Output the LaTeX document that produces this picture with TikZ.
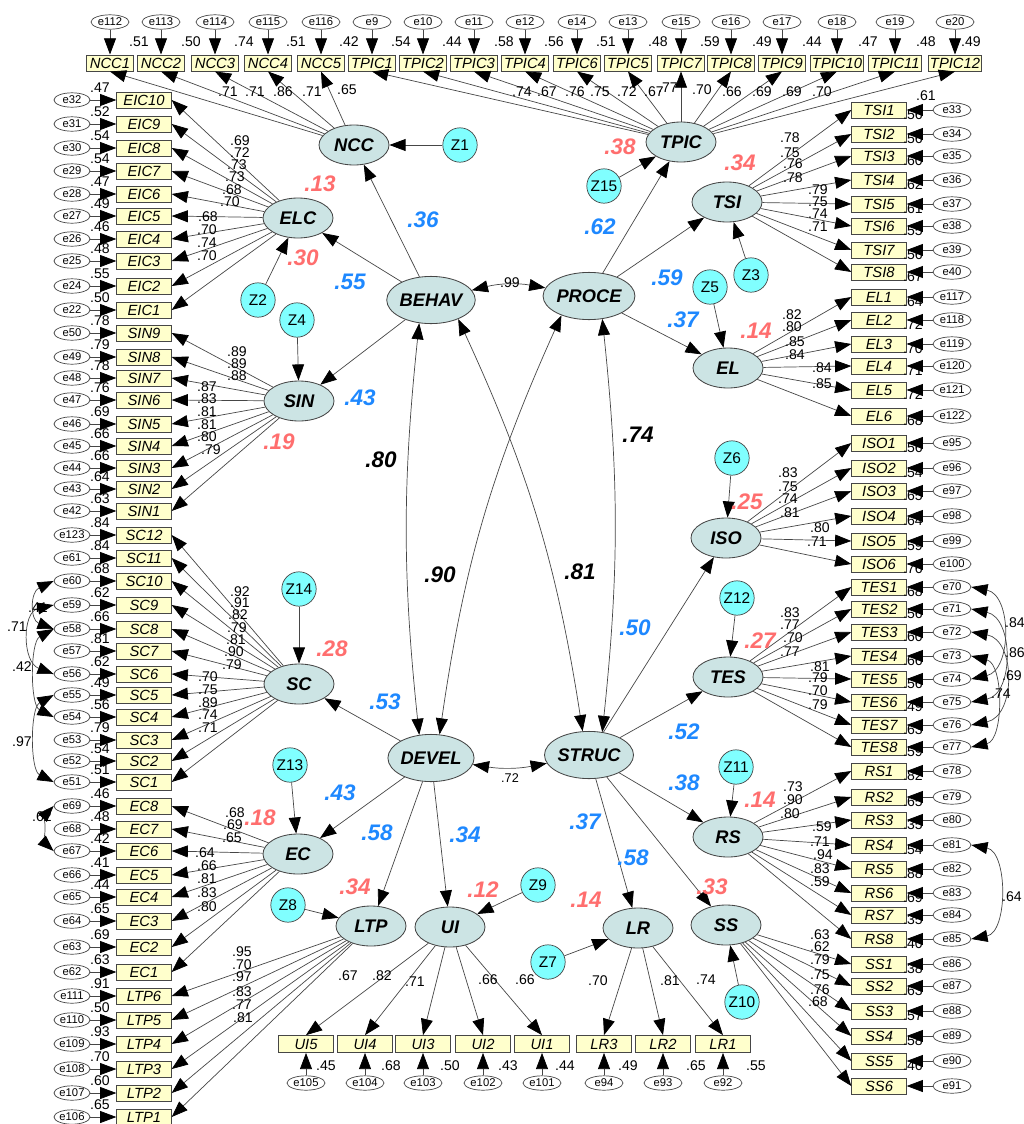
\documentclass[tikz,border=0pt]{standalone}
\usepackage{fontspec}
\setmainfont{Liberation Sans}
\usetikzlibrary{arrows.meta,shapes.geometric}

\definecolor{latfill}{RGB}{204,228,228}
\definecolor{zfill}{RGB}{128,255,255}
\definecolor{itemfill}{RGB}{255,255,204}
\definecolor{rsqred}{RGB}{255,110,110}
\definecolor{betablue}{RGB}{30,136,255}
\definecolor{linegray}{RGB}{70,70,70}

\tikzset{
  item/.style={draw=linegray, fill=itemfill, line width=0.7pt, minimum width=13.6mm,
    minimum height=4mm, inner sep=0pt, font=\fontsize{10.5}{10.5}\selectfont\itshape},
  errnode/.style={draw=linegray, fill=white, ellipse, line width=0.5pt, minimum width=9mm,
    minimum height=3.6mm, inner sep=0pt, font=\fontsize{8}{8}\selectfont},
  lat/.style={draw=linegray, fill=latfill, ellipse, line width=0.6pt, minimum width=17.5mm,
    minimum height=10mm, inner sep=0pt, font=\fontsize{13}{13}\selectfont\bfseries\itshape},
  biglat/.style={lat, minimum width=20.5mm, minimum height=11.8mm},
  dist/.style={draw=linegray, fill=zfill, circle, line width=0.5pt, minimum size=8.6mm,
    inner sep=0pt, font=\fontsize{11}{11}\selectfont},
  arr/.style={draw=linegray, line width=0.5pt, -{Triangle[length=11.5pt,width=8.5pt,color=black]}},
  cov/.style={draw=linegray, line width=0.5pt,
    {Triangle[length=11.5pt,width=8.5pt,color=black]}-{Triangle[length=11.5pt,width=8.5pt,color=black]}},
  num/.style={inner sep=0pt, font=\fontsize{10}{10}\selectfont},
  rsq/.style={inner sep=0pt, text=rsqred, font=\fontsize{16}{16}\selectfont\bfseries\itshape},
  beta/.style={inner sep=0pt, text=betablue, font=\fontsize{16}{16}\selectfont\bfseries\itshape},
  corr/.style={inner sep=0pt, font=\fontsize{16}{16}\selectfont\bfseries\itshape},
}

\begin{document}
\begin{tikzpicture}[x=0.25mm,y=-0.25mm]
  \useasboundingbox (0,0) rectangle (1024,1124);

  % latent variables
  \node[lat] (NCC) at (354,145) {NCC};
  \node[lat] (TPIC) at (681,142) {TPIC};
  \node[lat] (ELC) at (298,218) {ELC};
  \node[lat] (SIN) at (299,401) {SIN};
  \node[lat] (SC) at (299,684) {SC};
  \node[lat] (EC) at (298,854) {EC};
  \node[lat] (LTP) at (371,926) {LTP};
  \node[lat] (UI) at (450,927) {UI};
  \node[lat] (LR) at (638,928) {LR};
  \node[lat] (SS) at (726,925) {SS};
  \node[lat] (TSI) at (727,202) {TSI};
  \node[lat] (EL) at (728,368) {EL};
  \node[lat] (ISO) at (726,538) {ISO};
  \node[lat] (TES) at (728,677) {TES};
  \node[lat] (RS) at (728,837) {RS};
  \node[biglat] (BEHAV) at (431,300) {BEHAV};
  \node[biglat] (PROCE) at (589,296) {PROCE};
  \node[biglat] (DEVEL) at (431,758) {DEVEL};
  \node[biglat] (STRUC) at (589,755) {STRUC};

  % disturbances
  \foreach \z/\xx/\yy in {Z1/460/145, Z15/604/186, Z2/258/300, Z4/297/320, Z14/299/589,
      Z13/290/765, Z8/288/905, Z9/538/885, Z7/548/962, Z10/742/1002, Z3/751/275,
      Z5/710/287, Z6/732/458, Z12/737/598, Z11/736/767}
    \node[dist] (\z) at (\xx,\yy) {\z};
  \foreach \z/\lv in {Z1/NCC, Z15/TPIC, Z2/ELC, Z4/SIN, Z14/SC, Z13/EC, Z8/LTP, Z9/UI,
      Z7/LR, Z10/SS, Z3/TSI, Z5/EL, Z6/ISO, Z12/TES, Z11/RS}
    \draw[arr] (\z) -- (\lv);

  % left column
  \foreach \nm/\yy/\er/\rs in {EIC10/100/e32/.47, EIC9/124/e31/.52, EIC8/148/e30/.54,
      EIC7/171/e29/.54, EIC6/194/e28/.47, EIC5/216/e27/.49, EIC4/239/e26/.46,
      EIC3/261/e25/.48, EIC2/286/e24/.55, EIC1/310/e22/.50,
      SIN9/333/e50/.78, SIN8/357/e49/.79, SIN7/378/e48/.78, SIN6/400/e47/.76,
      SIN5/424/e46/.69, SIN4/446/e45/.66, SIN3/468/e44/.66, SIN2/489/e43/.64,
      SIN1/511/e42/.63,
      SC12/535/e123/.84, SC11/558/e61/.84, SC10/581/e60/.68, SC9/605/e59/.62,
      SC8/629/e58/.66, SC7/651/e57/.81, SC6/674/e56/.62, SC5/695/e55/.49,
      SC4/717/e54/.56, SC3/740/e53/.79, SC2/761/e52/.54, SC1/782/e51/.51,
      EC8/806/e69/.46, EC7/829/e68/.48, EC6/851/e67/.42, EC5/875/e66/.41,
      EC4/897/e65/.44, EC3/921/e64/.65, EC2/947/e63/.69, EC1/972/e62/.63,
      LTP6/996/e111/.91, LTP5/1020/e110/.50, LTP4/1044/e109/.93, LTP3/1069/e108/.70,
      LTP2/1093/e107/.60, LTP1/1117/e106/.65}
  {
    \node[item] (\nm) at (144,\yy) {\nm};
    \node[errnode] (\er) at (72,\yy) {\er};
    \draw[arr] (\er) -- (\nm);
    \node[num] at (100,\yy-12) {\rs};
  }
  \foreach \i in {1,...,10} \draw[arr] (ELC) -- (EIC\i.east);
  \foreach \i in {1,...,9} \draw[arr] (SIN) -- (SIN\i.east);
  \foreach \i in {1,...,12} \draw[arr] (SC) -- (SC\i.east);
  \foreach \i in {1,...,8} \draw[arr] (EC) -- (EC\i.east);
  \foreach \i in {1,...,6} \draw[arr] (LTP) -- (LTP\i.east);

  % top row
  \foreach \nm/\xx/\er/\bw in {NCC1/110/e112/11.8, NCC2/161/e113/11.8, NCC3/215/e114/11.8,
      NCC4/268/e115/11.8, NCC5/321/e116/11.8, TPIC1/372/e9/11.8, TPIC2/423/e10/11.8,
      TPIC3/474/e11/11.8, TPIC4/525/e12/11.8, TPIC6/577/e14/11.8, TPIC5/628/e13/11.8,
      TPIC7/681/e15/11.8, TPIC8/731/e16/11.8, TPIC9/782/e17/11.8, TPIC10/837/e18/13.4,
      TPIC11/895/e19/13.4, TPIC12/955/e20/13.4}
  {
    \node[item, minimum width=\bw mm] (\nm) at (\xx,63) {\nm};
    \node[errnode, minimum width=9.5mm] (\er) at (\xx,22) {\er};
    \draw[arr] (\er) -- (\nm);
  }
  \foreach \xx/\rs in {139/.51, 191/.50, 244/.74, 296/.51, 349/.42, 401/.54, 452/.44,
      504/.58, 554/.56, 606/.51, 658/.48, 710/.59, 762/.49, 812/.44, 868/.47, 926/.48, 971/.49}
    \node[num] at (\xx,42) {\rs};
  \foreach \i in {1,...,5} \draw[arr] (NCC) -- (NCC\i.south);
  \foreach \i in {1,...,12} \draw[arr] (TPIC) -- (TPIC\i.south);

  % right column
  \foreach \nm/\yy/\er/\rs in {TSI1/110/e33/.56, TSI2/134/e34/.56, TSI3/156/e35/.60,
      TSI4/180/e36/.62, TSI5/204/e37/.61, TSI6/226/e38/.55, TSI7/250/e39/.56,
      TSI8/272/e40/.67,
      EL1/297/e117/.64, EL2/320/e118/.72, EL3/344/e119/.70, EL4/366/e120/.71,
      EL5/390/e121/.72, EL6/416/e122/.68,
      ISO1/443/e95/.56, ISO2/468/e96/.54, ISO3/491/e97/.65, ISO4/516/e98/.64,
      ISO5/541/e99/.59, ISO6/564/e100/.76,
      TES1/587/e70/.68, TES2/609/e71/.56, TES3/632/e72/.60, TES4/656/e73/.66,
      TES5/679/e74/.56, TES6/702/e75/.49, TES7/725/e76/.63, TES8/747/e77/.59,
      RS1/771/e78/.82, RS2/797/e79/.65, RS3/820/e80/.35, RS4/845/e81/.54,
      RS5/869/e82/.88, RS6/893/e83/.69, RS7/915/e84/.35, RS8/939/e85/.40,
      SS1/964/e86/.38, SS2/986/e87/.63, SS3/1011/e88/.57, SS4/1036/e89/.58,
      SS5/1061/e90/.46, SS6/1086/e91/{}}
  {
    \node[item] (\nm) at (879,\yy) {\nm};
    \node[errnode, minimum width=9.5mm] (\er) at (952,\yy) {\er};
    \draw[arr] (\er) -- (\nm);
    \node[num] at (913,\yy+5) {\rs};
  }
  \node[num] at (926,96) {.61};
  \foreach \i in {1,...,8} \draw[arr] (TSI) -- (TSI\i.west);
  \foreach \i in {1,...,6} \draw[arr] (EL) -- (EL\i.west);
  \foreach \i in {1,...,6} \draw[arr] (ISO) -- (ISO\i.west);
  \foreach \i in {1,...,8} \draw[arr] (TES) -- (TES\i.west);
  \foreach \i in {1,...,8} \draw[arr] (RS) -- (RS\i.west);
  \foreach \i in {1,...,6} \draw[arr] (SS) -- (SS\i.west);

  % bottom row
  \foreach \nm/\xx/\er/\rs/\rx in {UI5/306/e105/.45/326, UI4/365/e104/.68/391,
      UI3/423/e103/.50/450, UI2/483/e102/.43/508, UI1/542/e101/.44/565,
      LR3/604/e94/.49/628, LR2/663/e93/.65/696, LR1/723/e92/.55/756}
  {
    \node[item, minimum height=4.2mm] (\nm) at (\xx,1044) {\nm};
    \node[errnode, minimum width=9.5mm] (\er) at (\xx,1083) {\er};
    \draw[arr] (\er) -- (\nm);
    \node[num] at (\rx,1066) {\rs};
  }
  \foreach \i in {1,...,5} \draw[arr] (UI) -- (UI\i.north);
  \foreach \i in {1,...,3} \draw[arr] (LR) -- (LR\i.north);

  % loadings
  \foreach \xx/\yy/\v in {228/92/.71, 255/92/.71, 283/92/.86, 312/92/.71, 347/90/.65,
      522/92/.74, 547/92/.67, 575/92/.76, 600/92/.75, 627/92/.72, 654/92/.67, 668/88/.77,
      702/90/.70, 732/92/.66, 762/92/.69, 792/92/.69, 822/92/.70,
      240/141/.69, 240/153/.72, 237/165/.73, 235/177/.73, 232/190/.68, 230/202/.70,
      208/217/.68, 207/230/.70, 207/243/.74, 207/256/.70,
      237/352/.89, 237/364/.89, 237/376/.88, 207/387/.87, 207/399/.83, 207/412/.81,
      207/425/.81, 207/437/.80, 211/450/.79,
      240/592/.92, 240/603/.91, 238/615/.82, 237/628/.79, 236/640/.81, 234/652/.90,
      232/665/.79, 208/677/.70, 208/690/.75, 208/703/.89, 208/715/.74, 208/728/.71,
      235/813/.68, 233/825/.69, 232/838/.65, 205/853/.64, 207/866/.66, 207/879/.81,
      207/893/.83, 207/907/.80,
      242/952/.95, 242/965/.70, 242/977/.97, 242/992/.83, 242/1005/.77, 243/1018/.81,
      790/138/.78, 790/153/.75, 793/164/.76, 793/178/.78, 818/190/.79, 818/202/.75,
      818/214/.74, 818/227/.71,
      792/315/.82, 792/327/.80, 795/342/.85, 795/355/.84, 822/368/.84, 822/384/.85,
      788/473/.83, 788/487/.75, 788/499/.74, 790/513/.81, 820/528/.80, 817/542/.71,
      790/613/.83, 790/625/.77, 793/638/.70, 790/652/.77, 820/667/.81, 818/678/.79,
      818/691/.70, 818/705/.79,
      793/787/.73, 793/800/.90, 790/814/.80, 822/827/.59, 820/842/.71, 823/855/.94,
      820/869/.83, 820/882/.59,
      820/935/.63, 820/947/.62, 820/960/.79, 820/975/.75, 820/990/.76, 818/1002/.68,
      348/976/.67, 382/976/.82, 415/982/.71, 488/980/.66, 525/980/.66,
      598/981/.70, 670/981/.81, 706/980/.74}
    \node[num] at (\xx,\yy) {\v};

  % structural paths
  \foreach \src/\dst in {BEHAV/NCC, BEHAV/ELC, BEHAV/SIN, PROCE/TPIC, PROCE/TSI, PROCE/EL,
      DEVEL/SC, DEVEL/EC, DEVEL/LTP, DEVEL/UI, STRUC/ISO, STRUC/TES, STRUC/RS,
      STRUC/LR, STRUC/SS}
    \draw[arr] (\src) -- (\dst);

  % correlations between the factors
  \draw[cov] (BEHAV) to[bend left=12] (PROCE);
  \draw[cov] (DEVEL) to[bend right=10] (STRUC);
  \draw[cov] (BEHAV.243) to[bend right=6] (DEVEL.117);
  \draw[cov] (PROCE.300) to[bend left=6] (STRUC.60);
  \draw[cov] (PROCE.215) to[bend right=8] (DEVEL.70);
  \draw[cov] (BEHAV.325) to[bend left=8] (STRUC.105);
  \node[num] at (510,283) {.99};
  \node[num, font=\fontsize{9}{9}\selectfont] at (510,778) {.72};

  % error covariances
  \draw[cov] (e59.west) .. controls (22,612) and (22,662) .. (e56.west);
  \draw[cov] (e60.west) .. controls (30,592) and (30,620) .. (e58.west);
  \draw[cov] (e58.west) .. controls (30,642) and (30,705) .. (e54.west);
  \draw[cov] (e55.west) .. controls (30,708) and (30,770) .. (e51.west);
  \draw[cov] (e69.west) .. controls (46,814) and (46,844) .. (e67.west);
  \node[num] at (38,608) {.41};
  \node[num] at (17,627) {.71};
  \node[num] at (22,667) {.42};
  \node[num] at (22,742) {.97};
  \node[num] at (42,817) {.62};
  \draw[cov] (e70.east) .. controls (1012,595) and (1012,670) .. (e74.east);
  \draw[cov] (e71.east) .. controls (1014,618) and (1014,694) .. (e75.east);
  \draw[cov] (e72.east) .. controls (1016,640) and (1016,716) .. (e76.east);
  \draw[cov] (e73.east) .. controls (1004,664) and (1004,740) .. (e77.east);
  \draw[cov] (e81.east) .. controls (1008,852) and (1008,932) .. (e85.east);
  \node[num] at (1015,623) {.84};
  \node[num] at (1015,653) {.86};
  \node[num] at (1012,676) {.69};
  \node[num] at (1001,694) {.74};
  \node[num] at (1012,897) {.64};

  % squared multiple correlations
  \foreach \xx/\yy/\v in {320/184/.13, 620/147/.38, 740/163/.34, 303/258/.30, 279/442/.19,
      756/331/.14, 747/502/.25, 332/649/.28, 760/641/.27, 260/818/.18, 760/800/.14,
      355/887/.34, 483/890/.12, 586/900/.14, 712/887/.33}
    \node[rsq] at (\xx,\yy) {\v};

  % path coefficients
  \foreach \xx/\yy/\v in {423/220/.36, 350/282/.55, 600/227/.62, 667/278/.59, 683/320/.37,
      360/398/.43, 385/702/.53, 340/793/.43, 377/833/.58, 465/835/.34, 635/628/.50,
      684/732/.52, 684/783/.38, 585/822/.37, 633/858/.58}
    \node[beta] at (\xx,\yy) {\v};

  \node[corr] at (381,460) {.80};
  \node[corr] at (638,435) {.74};
  \node[corr] at (440,575) {.90};
  \node[corr] at (580,572) {.81};
\end{tikzpicture}
\end{document}
